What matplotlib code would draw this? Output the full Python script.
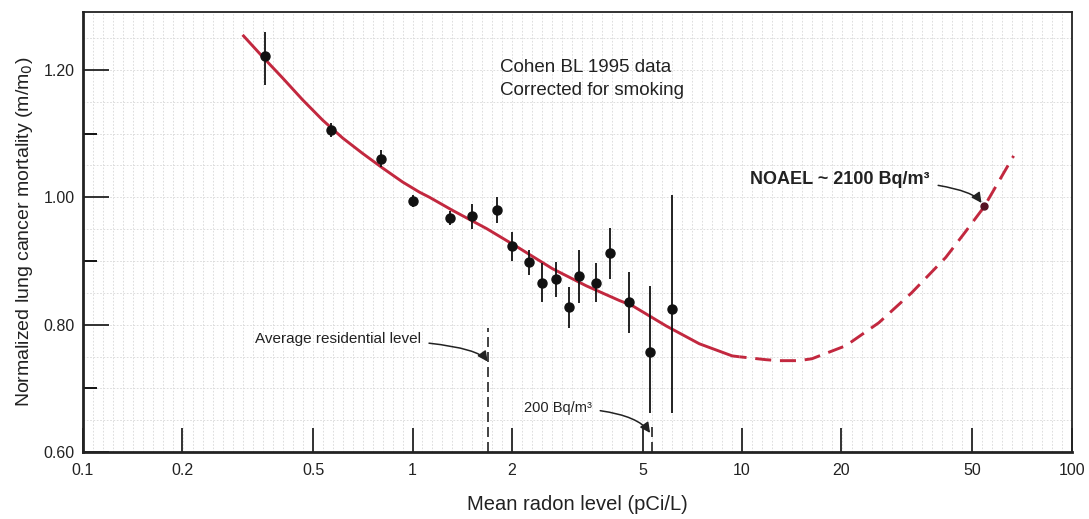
import numpy as np
import matplotlib
matplotlib.use("Agg")
import matplotlib.pyplot as plt

# ---- data ----
radon = [0.356, 0.564, 0.80, 1.00, 1.30, 1.52, 1.81, 2.01, 2.25, 2.48, 2.73, 2.99, 3.20, 3.61, 3.98, 4.54, 5.27, 6.14]
mortality = [1.222, 1.106, 1.060, 0.994, 0.967, 0.970, 0.980, 0.923, 0.898, 0.866, 0.871, 0.827, 0.876, 0.866, 0.912, 0.835, 0.757, 0.824]
err_low = [0.046, 0.011, 0.013, 0.010, 0.011, 0.020, 0.020, 0.023, 0.020, 0.031, 0.027, 0.032, 0.042, 0.031, 0.040, 0.048, 0.096, 0.162]
err_high = [0.038, 0.011, 0.014, 0.010, 0.011, 0.020, 0.020, 0.023, 0.020, 0.031, 0.027, 0.032, 0.042, 0.031, 0.040, 0.048, 0.104, 0.180]

fit_x_solid = [0.305, 0.351, 0.404, 0.464, 0.534, 0.614, 0.705, 0.811, 0.933, 1.05, 1.126, 1.322,
               1.676, 2.11, 2.656, 3.367, 4.24, 4.64, 5.885, 7.42, 9.33, 9.81]
fit_y_solid = [1.255, 1.2205, 1.187, 1.153, 1.121, 1.093, 1.069, 1.046, 1.024, 1.008, 1.000, 0.9795,
               0.951, 0.920, 0.888, 0.861, 0.838, 0.830, 0.798, 0.770, 0.751, 0.7496]
fit_x_dash = [9.81, 11.82, 12.9, 14.88, 16.3, 20.66, 26.0, 32.7, 41.5, 47.5, 54.1, 66.7]
fit_y_dash = [0.7496, 0.745, 0.7435, 0.7435, 0.7465, 0.767, 0.803, 0.850, 0.9055, 0.945, 0.984, 1.065]

noael_x = [54.1]
noael_y = [0.986]

avg_residential = 1.69
bq200 = 5.34

xticks = [0.1, 0.2, 0.5, 1, 2, 5, 10, 20, 50, 100]
xtick_labels = ["0.1", "0.2", "0.5", "1", "2", "5", "10", "20", "50", "100"]
yticks = [0.60, 0.80, 1.00, 1.20]
ytick_labels = ["0.60", "0.80", "1.00", "1.20"]
yminor = [0.70, 0.90, 1.10]

# ---- plot ----
plt.rcParams['font.family'] = ['Liberation Sans', 'DejaVu Sans']
fig = plt.figure(figsize=(10.89, 5.19), dpi=100)
ax = fig.add_axes([0.0762, 0.129, 0.9078, 0.848])
ax.set_xscale('log')
ax.set_xlim(0.1, 100)
ax.set_ylim(0.60, 1.291)

# graph-paper background
for gx in np.logspace(-1, 2, 100):
    ax.axvline(gx, color='#d8d8d8', lw=0.6, ls=(0, (2, 2)), zorder=0)
for gy in np.arange(0.60, 1.30, 0.05):
    ax.axhline(gy, color='#d8d8d8', lw=0.6, ls=(0, (2, 2)), zorder=0)

red = '#c2283f'
ax.plot(fit_x_solid, fit_y_solid, color=red, lw=2.1, zorder=3, solid_capstyle='butt',
        solid_joinstyle='round')
ax.plot(fit_x_dash, fit_y_dash, color=red, lw=2.1, ls=(3, (5.5, 3)), zorder=3)

ax.errorbar(radon, mortality, yerr=[err_low, err_high], fmt='o', color='#111111',
            ms=6.5, elinewidth=1.3, capsize=0, zorder=4)
ax.plot(noael_x, noael_y, 'o', color='#551122', ms=5, zorder=5)

ax.plot([avg_residential, avg_residential], [0.60, 0.795], color='#222222', lw=1.2,
        ls=(0, (6, 3)), zorder=2)
ax.plot([bq200, bq200], [0.60, 0.641], color='#222222', lw=1.2, ls=(0, (6, 3)), zorder=2)

arrow_kw = dict(arrowstyle='-|>', color='#222222', lw=1.1, mutation_scale=15,
                shrinkA=4, shrinkB=0, connectionstyle='angle3,angleA=0,angleB=-55')
ax.annotate("Average residential level", xy=(avg_residential, 0.742), xytext=(0.332, 0.777),
            fontsize=11, ha='left', va='center', color='#222222', arrowprops=arrow_kw)
ax.annotate("200 Bq/m³", xy=(bq200 * 0.985, 0.630), xytext=(2.18, 0.669),
            fontsize=10.5, ha='left', va='center', color='#222222', arrowprops=arrow_kw)
ax.annotate("NOAEL ~ 2100 Bq/m³", xy=(53.3, 0.991), xytext=(10.6, 1.028),
            fontsize=13, fontweight='bold', ha='left', va='center', color='#222222',
            arrowprops=arrow_kw)

ax.text(1.84, 1.203, "Cohen BL 1995 data", fontsize=13.5, va='center', ha='left', color='#222222')
ax.text(1.84, 1.168, "Corrected for smoking", fontsize=13.5, va='center', ha='left', color='#222222')

ax.set_xticks(xticks)
ax.set_xticklabels(xtick_labels)
ax.set_yticks(yticks)
ax.set_yticklabels(ytick_labels)
ax.set_yticks(yminor, minor=True)
ax.xaxis.set_minor_locator(matplotlib.ticker.NullLocator())
ax.tick_params(axis='x', which='major', direction='in', length=17, width=1.3,
               labelsize=11.5, pad=8, colors='#222222')
ax.tick_params(axis='y', which='major', direction='in', length=19, width=1.3,
               labelsize=11.5, pad=6, colors='#222222')
ax.tick_params(axis='y', which='minor', direction='in', length=10, width=1.3)

for s in ['left', 'bottom']:
    ax.spines[s].set_linewidth(2.0)
for s in ['top', 'right']:
    ax.spines[s].set_linewidth(1.3)
for s in ax.spines.values():
    s.set_color('#222222')

ax.set_xlabel("Mean radon level (pCi/L)", fontsize=14.5, labelpad=12, color='#222222')
ax.set_ylabel("Normalized lung cancer mortality (m/m$_0$)", fontsize=14, labelpad=6, color='#222222')

fig.savefig("out.png", dpi=100)
